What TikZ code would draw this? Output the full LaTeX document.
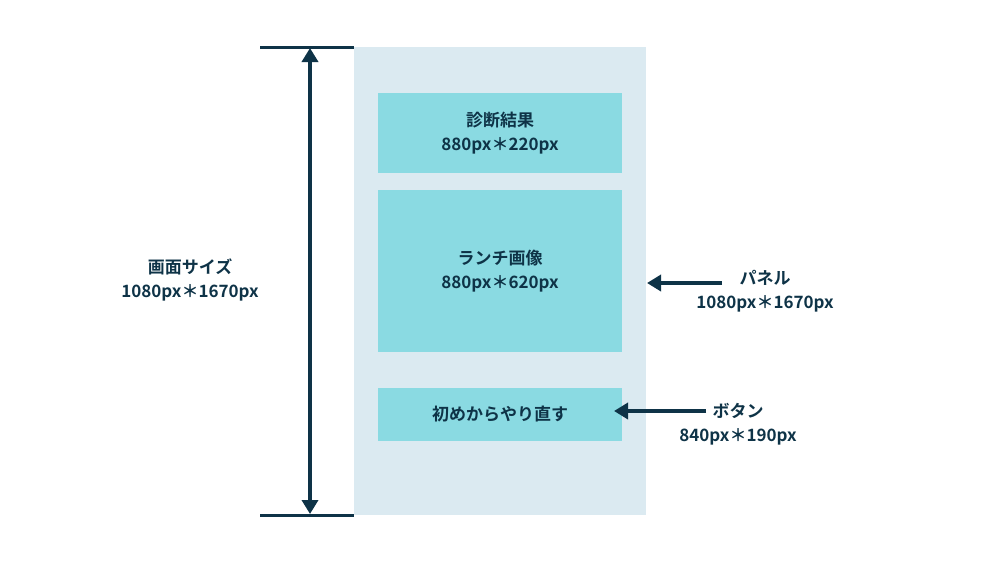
\documentclass[tikz,border=0pt]{standalone}
\usepackage{fontspec}
\setmainfont{Noto Sans CJK JP}[BoldFont={* Bold}]
\usetikzlibrary{arrows.meta}
\definecolor{navy}{HTML}{0E3347}
\definecolor{panel}{HTML}{DBEAF1}
\definecolor{boxc}{HTML}{8ADAE2}
\begin{document}
\begin{tikzpicture}[x=1pt,y=-1pt,
  lbl/.style={font=\bfseries\fontsize{17}{24}\selectfont,text=navy,align=center},
  boxs/.style={fill=boxc,draw=none},
  arr/.style={draw=navy,line width=3.5pt,-{Triangle[length=14pt,width=16pt]}}]
\useasboundingbox (0,0) rectangle (1000,563);
\fill[panel] (354,47) rectangle (646,515);
\node[boxs,minimum width=244,minimum height=80,lbl] (b1) at (500,133) {診断結果\\880px＊220px};
\node[boxs,minimum width=244,minimum height=162,lbl] (b2) at (500,271) {ランチ画像\\880px＊620px};
\node[boxs,minimum width=244,minimum height=53,lbl] (b3) at (500,414.5) {初めからやり直す};
\coordinate (t1) at (260,47); \coordinate (t2) at (354,47);
\coordinate (u1) at (260,515); \coordinate (u2) at (354,515);
\draw[navy,line width=3pt] (t1)--(t2) (u1)--(u2);
\coordinate (at) at (310,48); \coordinate (ab) at (310,514);
\draw[arr,{Triangle[length=14pt,width=16pt]}-{Triangle[length=14pt,width=16pt]}] (at)--(ab);
\node[lbl] (l1) at (190,280) {画面サイズ\\1080px＊1670px};
\coordinate (p1) at (722,283); \coordinate (p2) at (647,283);
\draw[arr] (p1)--(p2);
\node[lbl] (l2) at (765,291) {パネル\\1080px＊1670px};
\coordinate (q1) at (706,411); \coordinate (q2) at (614,411);
\draw[arr] (q1)--(q2);
\node[lbl] (l3) at (738,424) {ボタン\\840px＊190px};
\end{tikzpicture}
\end{document}
